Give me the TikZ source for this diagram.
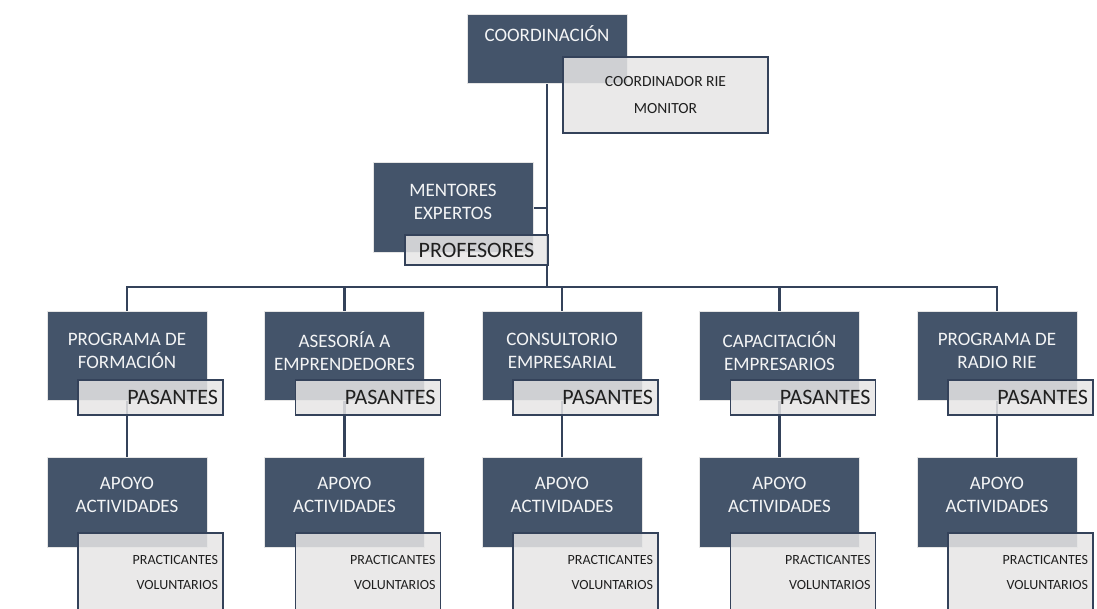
\documentclass[tikz,border=0pt]{standalone}
\usepackage{fontspec}
\setmainfont{Carlito}
\usetikzlibrary{backgrounds}
\definecolor{rieslate}{HTML}{44546A}
\definecolor{rieline}{HTML}{34425A}
\definecolor{riegray}{HTML}{E6E5E5}

\begin{document}
\begin{tikzpicture}[x=1pt,y=-1pt,
    dark/.style={fill=rieslate, draw=gray!20, line width=1pt, inner sep=0pt,
        minimum width=160pt, minimum height=88pt},
    darktxt/.style={text=white!94!rieslate, align=center, inner sep=0pt,
        font=\fontsize{19}{23}\selectfont},
    light/.style={fill=riegray, fill opacity=.86, text opacity=1, text=black!88,
        draw=rieline, line width=1.6pt, inner sep=0pt},
    pas/.style={light, text width=135pt, inner xsep=5pt, minimum height=35pt,
        align=right, font=\fontsize{22}{24}\selectfont},
    vol/.style={light, text width=135pt, inner xsep=5pt, minimum height=79pt,
        align=right, font=\fontsize{14}{25}\selectfont},
    conn/.style={draw=rieline, line width=2.5pt}]

    \clip (0,0) rectangle (1097,609);

    % top
    \node[dark, minimum height=69pt] (coord) at (547,49.5) {};
    \node[darktxt] (coordt) at ([yshift=16pt]coord.center) {COORDINACIÓN};
    \node[light, minimum width=205pt, minimum height=76pt, align=center,
        font=\fontsize{15.5}{27}\selectfont] (monitor) at (665.5,95)
        {COORDINADOR RIE\\MONITOR};

    \node[dark, minimum height=90pt] (ment) at (453,208) {};
    \node[darktxt] (mentt) at ([yshift=6pt]ment.center) {MENTORES\\EXPERTOS};
    \node[light, minimum width=143pt, minimum height=30pt,
        font=\fontsize{22}{24}\selectfont] (prof) at (476.5,250) {PROFESORES};

    % programas
    \node[dark] (prog1) at (127,356) {};
    \node[dark] (prog2) at (344.5,356) {};
    \node[dark] (prog3) at (562,356) {};
    \node[dark] (prog4) at (779.5,356) {};
    \node[dark] (prog5) at (997,356) {};
    \node[darktxt] (prog1t) at ([yshift=5pt]prog1.center) {PROGRAMA DE\\FORMACIÓN};
    \node[darktxt] (prog2t) at ([yshift=5pt]prog2.center) {ASESORÍA A\\EMPRENDEDORES};
    \node[darktxt] (prog3t) at ([yshift=5pt]prog3.center) {CONSULTORIO\\EMPRESARIAL};
    \node[darktxt] (prog4t) at ([yshift=5pt]prog4.center) {CAPACITACIÓN\\EMPRESARIOS};
    \node[darktxt] (prog5t) at ([yshift=5pt]prog5.center) {PROGRAMA DE\\RADIO RIE};
    \node[pas] (pas1) at (150.5,397.5) {PASANTES};
    \node[pas] (pas2) at (368,397.5) {PASANTES};
    \node[pas] (pas3) at (585.5,397.5) {PASANTES};
    \node[pas] (pas4) at (803,397.5) {PASANTES};
    \node[pas] (pas5) at (1020.5,397.5) {PASANTES};

    % apoyo
    \node[dark, minimum height=90pt] (apoyo1) at (127,502) {};
    \node[dark, minimum height=90pt] (apoyo2) at (344.5,502) {};
    \node[dark, minimum height=90pt] (apoyo3) at (562,502) {};
    \node[dark, minimum height=90pt] (apoyo4) at (779.5,502) {};
    \node[dark, minimum height=90pt] (apoyo5) at (997,502) {};
    \node[darktxt] (apoyo1t) at ([yshift=7pt]apoyo1.center) {APOYO\\ACTIVIDADES};
    \node[darktxt] (apoyo2t) at ([yshift=7pt]apoyo2.center) {APOYO\\ACTIVIDADES};
    \node[darktxt] (apoyo3t) at ([yshift=7pt]apoyo3.center) {APOYO\\ACTIVIDADES};
    \node[darktxt] (apoyo4t) at ([yshift=7pt]apoyo4.center) {APOYO\\ACTIVIDADES};
    \node[darktxt] (apoyo5t) at ([yshift=7pt]apoyo5.center) {APOYO\\ACTIVIDADES};
    \node[vol] (vol1) at (150.5,572.5) {PRACTICANTES\\VOLUNTARIOS};
    \node[vol] (vol2) at (368,572.5) {PRACTICANTES\\VOLUNTARIOS};
    \node[vol] (vol3) at (585.5,572.5) {PRACTICANTES\\VOLUNTARIOS};
    \node[vol] (vol4) at (803,572.5) {PRACTICANTES\\VOLUNTARIOS};
    \node[vol] (vol5) at (1020.5,572.5) {PRACTICANTES\\VOLUNTARIOS};

    % lines
    \coordinate (bus) at (547,287);
    \begin{scope}[on background layer]
        \draw[conn] (coord) -- (bus);
        \draw[conn] (ment.east) -- (ment.east -| bus);
        \draw[conn] (prog1) |- (bus) -| (prog5);
        \draw[conn] (prog2) -- (prog2 |- bus);
        \draw[conn] (prog3) -- (prog3 |- bus);
        \draw[conn] (prog4) -- (prog4 |- bus);
        \draw[conn] (prog1) -- (apoyo1);
        \draw[conn] (prog2) -- (apoyo2);
        \draw[conn] (prog3) -- (apoyo3);
        \draw[conn] (prog4) -- (apoyo4);
        \draw[conn] (prog5) -- (apoyo5);
    \end{scope}

\end{tikzpicture}
\end{document}
